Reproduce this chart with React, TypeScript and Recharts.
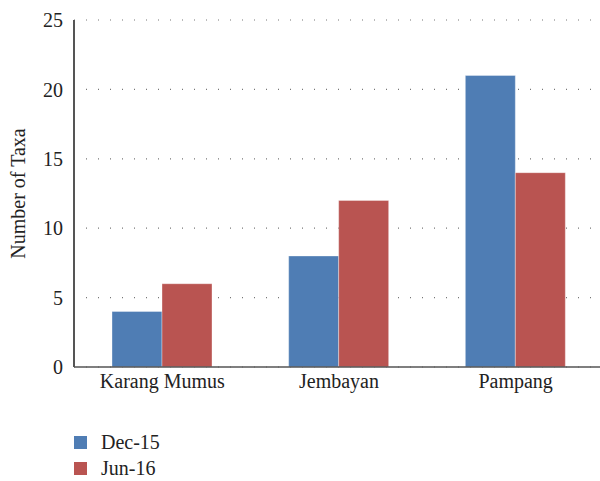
import { BarChart, Bar, XAxis, YAxis, CartesianGrid } from "recharts";

const sites = ["Karang Mumus", "Jembayan", "Pampang"];
const dec15 = [4, 8, 21];
const jun16 = [6, 12, 14];
const yTicks = [0, 5, 10, 15, 20, 25];

const seriesInfo = [
  { key: "dec15", name: "Dec-15", color: "#4f7db4" },
  { key: "jun16", name: "Jun-16", color: "#b95451" },
];

const data = sites.map((site, i) => ({ site, dec15: dec15[i], jun16: jun16[i] }));

const FONT = "'Liberation Serif', 'DejaVu Serif', serif";
const FS = 20;

function LegendBox() {
  return (
    <div style={{ position: "absolute", left: 74, top: 429, fontFamily: FONT, fontSize: FS, color: "#222", lineHeight: "26px" }}>
      {seriesInfo.map((s) => (
        <div key={s.key} style={{ display: "flex", alignItems: "center", height: 26 }}>
          <span style={{ width: 13, height: 13, background: s.color, display: "inline-block", marginRight: 14 }} />
          <span>{s.name}</span>
        </div>
      ))}
    </div>
  );
}

function YLabel(props: any) {
  const vb = props.viewBox || {};
  const cx = 18;
  const cy = vb.y + vb.height / 2;
  return (
    <text
      x={cx}
      y={cy}
      transform={`rotate(-90, ${cx}, ${cy})`}
      textAnchor="middle"
      dominantBaseline="central"
      fontFamily={FONT}
      fontSize={FS}
      fill="#222"
    >
      Number of Taxa
    </text>
  );
}

export default function App() {
  return (
    <div style={{ position: "absolute", left: 0, top: 0, width: 600, height: 481, overflow: "hidden", background: "#fff" }}>
      <BarChart
        width={604}
        height={481}
        data={data}
        margin={{ top: 20, right: 0, left: 0, bottom: 84 }}
        barGap={0}
        barCategoryGap={38}
      >
        <CartesianGrid vertical={false} stroke="#777" strokeDasharray="1 11" strokeWidth={1.2} />
        <XAxis
          dataKey="site"
          tickLine={false}
          tickSize={0}
          tickMargin={7}
          axisLine={{ stroke: "#555", strokeWidth: 1.5 }}
          tick={{ fontFamily: FONT, fontSize: FS, fill: "#222" }}
          height={30}
        />
        <YAxis
          domain={[0, 25]}
          ticks={yTicks}
          width={74}
          tickLine={false}
          tickSize={0}
          tickMargin={11}
          axisLine={{ stroke: "#555", strokeWidth: 2 }}
          tick={{ fontFamily: FONT, fontSize: FS, fill: "#222" }}
          label={<YLabel />}
        />
        {seriesInfo.map((s) => (
          <Bar
            key={s.key}
            dataKey={s.key}
            name={s.name}
            fill={s.color}
            stroke="#ffffff"
            strokeOpacity={0.35}
            barSize={50}
            isAnimationActive={false}
          />
        ))}
      </BarChart>
      <LegendBox />
    </div>
  );
}
